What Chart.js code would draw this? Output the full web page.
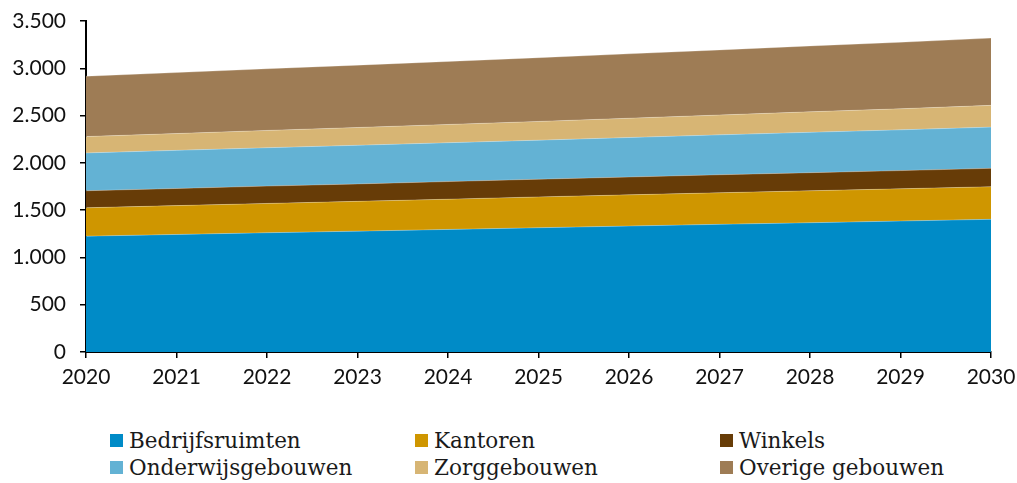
<!DOCTYPE html>
<html>
<head>
<meta charset="utf-8">
<script src="https://cdn.jsdelivr.net/npm/chart.js@4"></script>
<style>
  body { margin: 0; background: #fff; }
  #wrap { position: relative; width: 1017px; height: 483px; }
  #chartBox { position: absolute; left: 0; top: 0; width: 1017px; height: 400px; }
  #legend {
    position: absolute; left: 110px; top: 428px;
    display: grid; grid-template-columns: 305px 305px 300px; row-gap: 3px;
    font-family: "DejaVu Serif", serif; font-size: 21.5px; color: #1a1a1a;
  }
  .item { display: flex; align-items: center; height: 24px; white-space: nowrap; }
  .sw { width: 13px; height: 13px; margin-right: 6px; flex: none; }
</style>
</head>
<body>
<div id="wrap">
  <div id="chartBox"><canvas id="areaChart"></canvas></div>
  <div id="legend"></div>
</div>
<script>
// jaren en oppervlakte per gebouwtype (gestapeld)
const years = ['2020', '2021', '2022', '2023', '2024', '2025', '2026', '2027', '2028', '2029', '2030'];
const bedrijfsruimten = [1225, 1243, 1261, 1278, 1296, 1314, 1332, 1350, 1367, 1385, 1403];
const kantoren = [300, 305, 310, 315, 320, 326, 330, 334, 338, 341, 345];
const winkels = [180, 181, 183, 184, 186, 187, 188, 190, 191, 192, 194];
const onderwijs = [400, 403, 406, 409, 411, 413, 418, 422, 427, 431, 436];
const zorg = [173, 178, 183, 188, 193, 198, 204, 210, 217, 223, 230];
const overige = [638, 645, 652, 659, 666, 674, 681, 688, 696, 703, 711];
const yTicks = [0, 500, 1000, 1500, 2000, 2500, 3000, 3500];

const series = [
    { label: 'Bedrijfsruimten', data: bedrijfsruimten, color: '#008bc7' },
    { label: 'Kantoren', data: kantoren, color: '#cf9600' },
    { label: 'Winkels', data: winkels, color: '#673c07' },
    { label: 'Onderwijsgebouwen', data: onderwijs, color: '#63b2d4' },
    { label: 'Zorggebouwen', data: zorg, color: '#d7b574' },
    { label: 'Overige gebouwen', data: overige, color: '#9e7c55' }
];

const tickFont = { family: 'Lato', size: 21 };

const ctx = document.getElementById('areaChart').getContext('2d');
const areaChart = new Chart(ctx, {
    type: 'line',
    data: {
        labels: years,
        datasets: series.map((s, i) => ({
            label: s.label,
            data: s.data,
            backgroundColor: s.color,
            borderColor: 'rgba(255,255,255,0.25)',
            borderWidth: 1,
            pointRadius: 0,
            tension: 0,
            fill: i === 0 ? 'origin' : '-1'
        }))
    },
    options: {
        responsive: true,
        maintainAspectRatio: false,
        animation: false,
        layout: { padding: { top: 21, right: 26, left: 0, bottom: 0 } },
        plugins: {
            legend: { display: false },
            tooltip: { enabled: false }
        },
        scales: {
            x: {
                offset: false,
                grid: { drawOnChartArea: false, tickLength: 6, color: '#000', lineWidth: 1.5 },
                border: { color: '#000', width: 2 },
                ticks: { font: tickFont, color: '#111', padding: 7, maxRotation: 0 },
                afterFit: (scale) => {
                    scale.height = 48;
                    scale.paddingLeft = 0;
                    scale.paddingRight = 0;
                }
            },
            y: {
                stacked: true,
                min: 0,
                max: 3500,
                afterBuildTicks: (scale) => { scale.ticks = yTicks.map(v => ({ value: v })); },
                grid: { drawOnChartArea: false, tickLength: 6, color: '#000', lineWidth: 1.5 },
                border: { color: '#000', width: 2 },
                ticks: {
                    font: tickFont,
                    color: '#111',
                    padding: 14,
                    callback: (v) => v.toLocaleString('nl-NL')
                },
                afterFit: (scale) => {
                    scale.width = 86;
                    scale.paddingTop = 0;
                    scale.paddingBottom = 0;
                }
            }
        }
    }
});

// legenda in drie kolommen
const legend = document.getElementById('legend');
series.forEach(s => {
    const item = document.createElement('div');
    item.className = 'item';
    item.innerHTML = '<span class="sw" style="background:' + s.color + '"></span>' + s.label;
    legend.appendChild(item);
});
</script>
</body>
</html>
